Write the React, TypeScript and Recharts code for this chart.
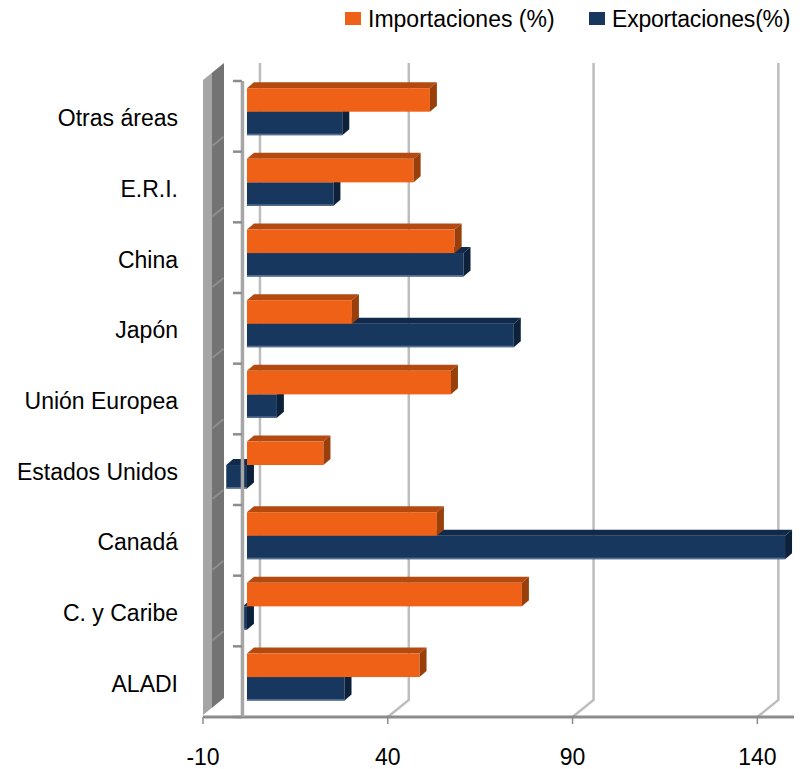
import React from 'react';
import { BarChart, Bar, XAxis, YAxis, ReferenceLine, Legend } from 'recharts';

const categories = ['Otras áreas', 'E.R.I.', 'China', 'Japón', 'Unión Europea', 'Estados Unidos', 'Canadá', 'C. y Caribe', 'ALADI'];
const importaciones = [49.5, 45.1, 56.2, 28.4, 55.2, 20.7, 51.4, 74.4, 46.7];
const exportaciones = [25.8, 23.4, 58.6, 72.2, 8.1, -5.6, 145.6, -1.1, 26.4];
const xTicks = [-10, 40, 90, 140];
const gridValues = [0, 40, 90, 140];
const seriesNames = ['Importaciones (%)', 'Exportaciones(%)'];

const data = categories.map((name, i) => ({ name, imp: importaciones[i], exp: exportaciones[i] }));

const FONT = '"Liberation Sans", Arial, sans-serif';
const BAR = 23.5;
const DX = 7;
const DY = 6;
const SHIFT_X = 7;
const SHIFT_Y = -4.8;

const ORANGE = { front: '#EE6116', top: '#B44A10', side: '#983F0C', edge: '' };
const BLUE = { front: '#17375E', top: '#11294A', side: '#0D213B', edge: '#58708F' };

function Box(props: any) {
  const { x, y, width, height, c, dy } = props;
  if (x == null || width == null) return null;
  const left = Math.min(x, x + width) + SHIFT_X;
  const w = Math.abs(width);
  const top = y + dy;
  const h = height;
  return (
    <g>
      <polygon points={`${left},${top} ${left + DX},${top - DY} ${left + w + DX},${top - DY} ${left + w},${top}`} fill={c.top} />
      <rect x={left} y={top} width={w} height={h} fill={c.front} />
      {c.edge ? <rect x={left} y={top + h - 1.5} width={w} height={1.5} fill={c.edge} /> : null}
      <polygon points={`${left + w},${top} ${left + w + DX},${top - DY} ${left + w + DX},${top + h - DY} ${left + w},${top + h}`} fill={c.side} />
    </g>
  );
}

function WallShape(p: any) {
  const x = p.x1;
  const top = Math.min(p.y1, p.y2);
  const bot = Math.max(p.y1, p.y2);
  const n = categories.length;
  const band = (bot - top) / n;
  const streaks = [];
  for (let i = 1; i < n; i++) {
    const yb = top + i * band;
    streaks.push(<line key={i} x1={x + 9.5} y1={yb - 6} x2={x + 20.5} y2={yb - 15} stroke="#8E8E8E" strokeWidth={2} />);
  }
  return (
    <g>
      <polygon points={`${x},${top - 1} ${x + 9},${top - 8.3} ${x + 9},${bot - 9.3} ${x},${bot - 2}`} fill="#A5A5A5" />
      <polygon points={`${x + 9},${top - 8.3} ${x + 21},${top - 18} ${x + 21},${bot - 19} ${x + 9},${bot - 9.3}`} fill="#737373" />
      {streaks}
    </g>
  );
}

function GridShape(p: any, v: number) {
  const x = p.x1;
  const top = Math.min(p.y1, p.y2);
  const bot = Math.max(p.y1, p.y2);
  if (v === 0) {
    return <path d={`M${x + 20},${top - 18} L${x + 20},${bot - 17}`} stroke="#BDBDBD" strokeWidth={2.5} fill="none" />;
  }
  return (
    <path d={`M${x + 21},${top - 18} L${x + 21},${bot - 17} L${x},${bot}`} stroke="#BDBDBD" strokeWidth={2.5} fill="none" />
  );
}

function CatAxisShape(p: any) {
  const x = p.x1;
  const top = Math.min(p.y1, p.y2);
  const bot = Math.max(p.y1, p.y2);
  const n = categories.length;
  const band = (bot - top) / n;
  const ticks = [];
  for (let i = 0; i <= n; i++) {
    const yy = top + i * band;
    ticks.push(<line key={i} x1={x - 7} y1={yy} x2={x + 2} y2={yy} stroke="#8C8C8C" strokeWidth={2.5} />);
  }
  return (
    <g>
      <line x1={x + 2.5} y1={top} x2={x + 2.5} y2={bot} stroke="#A6A6A6" strokeWidth={3.5} />
      {ticks}
    </g>
  );
}

function CatTick(props: any) {
  const { x, y, payload } = props;
  return (
    <text x={x} y={y} dy={10} textAnchor="end" fontSize={23} fontFamily={FONT} fill="#000">
      {payload.value}
    </text>
  );
}

function ValTick(props: any) {
  const { x, y, payload } = props;
  return (
    <text x={x} y={y} dy={16} textAnchor="middle" fontSize={23} fontFamily={FONT} fill="#000">
      {payload.value}
    </text>
  );
}

function LegendContent() {
  return (
    <svg width={457} height={36} style={{ display: 'block', overflow: 'visible' }}>
      <rect x={0} y={4} width={16} height={13} fill={ORANGE.front} />
      <text x={23} y={19} fontSize={23} fontFamily={FONT} fill="#000">{seriesNames[0]}</text>
      <rect x={244} y={4} width={16} height={13} fill={BLUE.front} />
      <text x={267} y={19} fontSize={23} fontFamily={FONT} fill="#000" letterSpacing={-0.2}>{seriesNames[1]}</text>
    </svg>
  );
}

export default function App() {
  return (
    <div style={{ width: 794, height: 761 }}>
      <BarChart
        width={794}
        height={761}
        data={data}
        layout="vertical"
        margin={{ top: 73, right: 4, bottom: 8, left: 0 }}
        barSize={BAR}
        barGap={0}
      >
        <XAxis
          type="number"
          domain={[-10, 151]}
          ticks={xTicks}
          interval={0}
          height={44}
          tickSize={7}
          tickMargin={25}
          axisLine={{ stroke: '#8C8C8C', strokeWidth: 3 }}
          tickLine={{ stroke: '#8C8C8C', strokeWidth: 1.5 }}
          tick={<ValTick />}
        />
        <YAxis
          type="category"
          dataKey="name"
          width={195}
          tickSize={0}
          tickMargin={25}
          axisLine={false}
          tickLine={false}
          interval={0}
          tick={<CatTick />}
        />
        <ReferenceLine x={-10} stroke="none" zIndex={-50} shape={(p: any) => <WallShape {...p} />} />
        {gridValues.map((v) => (
          <ReferenceLine key={v} x={v} zIndex={-50} shape={(p: any) => GridShape(p, v)} />
        ))}
        <Bar
          dataKey="exp"
          name={seriesNames[1]}
          isAnimationActive={false}
          shape={(p: any) => <Box {...p} c={BLUE} dy={BAR + SHIFT_Y} />}
        />
        <Bar
          dataKey="imp"
          name={seriesNames[0]}
          isAnimationActive={false}
          shape={(p: any) => <Box {...p} c={ORANGE} dy={-BAR + SHIFT_Y} />}
        />
        <ReferenceLine x={0} zIndex={600} shape={(p: any) => <CatAxisShape {...p} />} />
        <Legend
          layout="horizontal"
          verticalAlign="middle"
          align="center"
          wrapperStyle={{ top: 0, left: 337, width: 457, height: 36 }}
          content={() => <LegendContent />}
        />
      </BarChart>
    </div>
  );
}
